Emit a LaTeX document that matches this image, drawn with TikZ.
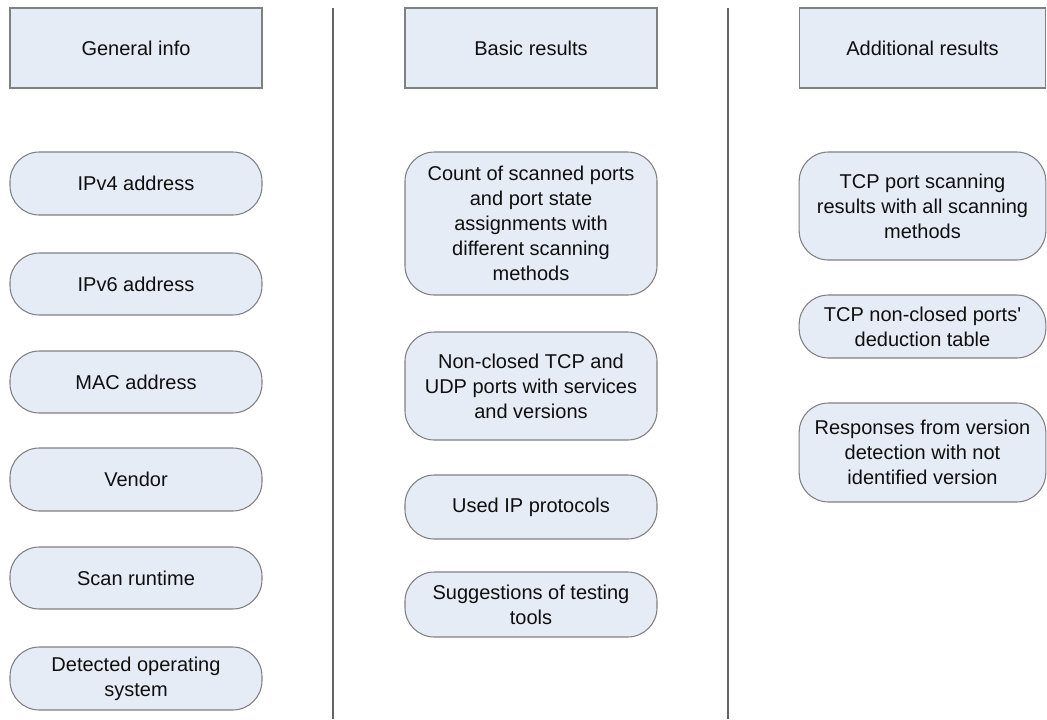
\documentclass[tikz,border=0pt]{standalone}
\usepackage{fontspec}
\setmainfont{Liberation Sans}[Ligatures=TeXOff]
\definecolor{boxfill}{RGB}{230,236,246}
\definecolor{boxline}{RGB}{128,128,128}
\definecolor{sepline}{RGB}{100,100,100}
\definecolor{txt}{RGB}{15,15,15}
\begin{document}
\begin{tikzpicture}[x=0.75pt,y=-0.75pt,
  every node/.style={font=\fontsize{15}{18.75}\selectfont, text=txt, align=center, inner sep=0pt},
  header/.style={draw=boxline, fill=boxfill, line width=0.8pt, minimum height=60pt},
  item/.style={draw=boxline, fill=boxfill, line width=0.8pt, rounded corners=22pt},
  sep/.style={draw=sepline, line width=0.8pt}]
\useasboundingbox (0,0) rectangle (1047,719);

% column separators
\coordinate (s1t) at (333,8);
\coordinate (s1b) at (333,719);
\coordinate (s2t) at (728,8);
\coordinate (s2b) at (728,719);
\draw[sep] (s1t) -- (s1b);
\draw[sep] (s2t) -- (s2b);

% headers
\node[header, minimum width=189pt] (h1) at (136,48) {General info};
\node[header, minimum width=189pt] (h2) at (531,48) {Basic results};
\node[header, minimum width=185pt] (h3) at (922.5,48) {Additional results};

% general info
\node[item, minimum width=189pt, minimum height=47.25pt] (ipv4) at (136,183.5) {IPv4 address};
\node[item, minimum width=189pt, minimum height=46.5pt] (ipv6) at (136,284) {IPv6 address};
\node[item, minimum width=189pt, minimum height=46.5pt] (mac) at (136,382) {MAC address};
\node[item, minimum width=189pt, minimum height=47.25pt] (vendor) at (136,479.5) {Vendor};
\node[item, minimum width=189pt, minimum height=46.5pt] (runtime) at (136,578) {Scan runtime};
\node[item, minimum width=189pt, minimum height=47.25pt] (os) at (136,678.5) {Detected operating\\system};

% basic results
\node[item, minimum width=189pt, minimum height=107.25pt] (count) at (531,223.5) {Count of scanned ports\\and port state\\assignments with\\different scanning\\methods};
\node[item, minimum width=189pt, minimum height=81pt] (open) at (531,386) {Non-closed TCP and\\UDP ports with services\\and versions};
\node[item, minimum width=189pt, minimum height=48pt] (proto) at (531,507) {Used IP protocols};
\node[item, minimum width=189pt, minimum height=48.75pt] (tools) at (531,604.5) {Suggestions of testing\\tools};

% additional results
\node[item, minimum width=185pt, minimum height=81pt] (tcpall) at (922.5,206) {TCP port scanning\\results with all scanning\\methods};
\node[item, minimum width=185pt, minimum height=47.25pt] (deduct) at (922.5,326.5) {TCP non-closed ports'\\deduction table};
\node[item, minimum width=185pt, minimum height=74.25pt] (unident) at (922.5,452.5) {Responses from version\\detection with not\\identified version};
\end{tikzpicture}
\end{document}
